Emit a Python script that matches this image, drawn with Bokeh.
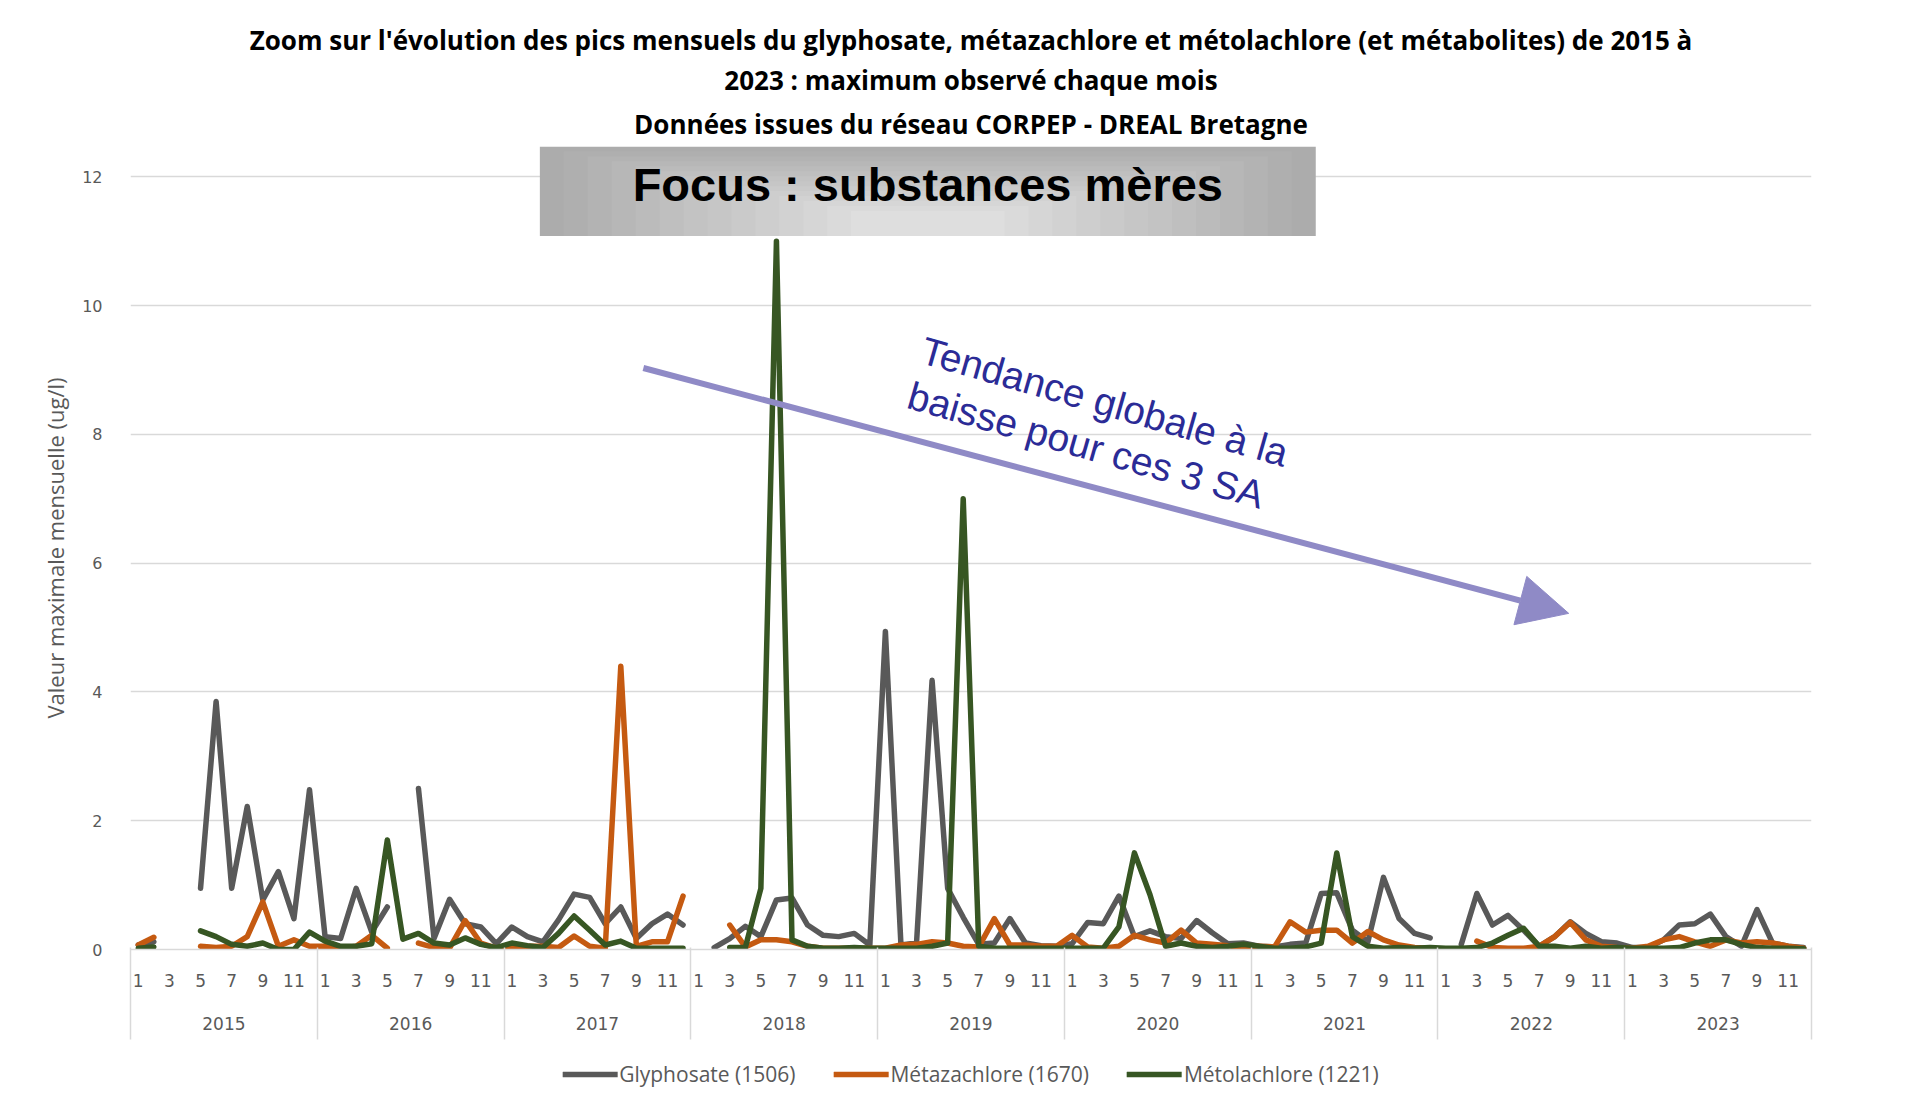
import math
from bokeh.plotting import figure
from bokeh.layouts import column
from bokeh.models import (Range1d, LinearAxis, FixedTicker, Title, Legend, LegendItem,
                          Arrow, NormalHead, Label, BoxAnnotation, ColumnDataSource)
from bokeh.embed import file_html
from bokeh.resources import INLINE

nan = float("nan")

years = [2015, 2016, 2017, 2018, 2019, 2020, 2021, 2022, 2023]
months = [1, 2, 3, 4, 5, 6, 7, 8, 9, 10, 11, 12]

series_names = ["Glyphosate (1506)", "Métazachlore (1670)", "Métolachlore (1221)"]
series_colors = ["#595959", "#c55a11", "#375623"]

glyphosate = [
    0.07, 0.12, nan, nan, 0.95, 3.85, 0.95, 2.22, 0.77, 1.21, 0.48, 2.48,
    0.20, 0.17, 0.95, 0.27, 0.66, nan, 2.50, 0.17, 0.78, 0.40, 0.35, 0.09,
    0.35, 0.20, 0.12, 0.46, 0.86, 0.81, 0.40, 0.66, 0.17, 0.40, 0.55, 0.38,
    nan, 0.03, 0.17, 0.36, 0.20, 0.77, 0.80, 0.38, 0.22, 0.20, 0.25, 0.07,
    4.94, 0.07, 0.10, 4.18, 0.95, 0.50, 0.08, 0.10, 0.48, 0.10, 0.06, 0.05,
    0.09, 0.42, 0.40, 0.83, 0.20, 0.29, 0.20, 0.17, 0.45, 0.26, 0.09, 0.10,
    0.05, 0.04, 0.08, 0.10, 0.87, 0.88, 0.30, 0.12, 1.12, 0.48, 0.25, 0.18,
    nan, 0.08, 0.87, 0.38, 0.53, 0.30, 0.05, 0.20, 0.43, 0.25, 0.12, 0.10,
    0.03, 0.03, 0.15, 0.38, 0.40, 0.55, 0.20, 0.05, 0.62, 0.10, 0.05, 0.03,
]

metazachlore = [
    0.07, 0.19, nan, nan, 0.05, 0.03, 0.05, 0.20, 0.74, 0.05, 0.15, 0.05,
    0.05, 0.02, 0.05, 0.22, 0.02, nan, 0.10, 0.03, 0.02, 0.45, 0.10, 0.02,
    0.05, 0.05, 0.05, 0.03, 0.21, 0.05, 0.02, 4.40, 0.05, 0.12, 0.12, 0.83,
    nan, nan, 0.38, 0.04, 0.15, 0.15, 0.12, 0.05, 0.02, 0.02, 0.02, 0.02,
    0.02, 0.07, 0.08, 0.12, 0.10, 0.05, 0.04, 0.48, 0.07, 0.07, 0.05, 0.05,
    0.22, 0.04, 0.02, 0.05, 0.22, 0.15, 0.10, 0.30, 0.10, 0.08, 0.06, 0.02,
    0.05, 0.04, 0.43, 0.27, 0.30, 0.30, 0.10, 0.28, 0.15, 0.07, 0.03, 0.02,
    nan, nan, 0.13, 0.03, 0.02, 0.02, 0.05, 0.20, 0.42, 0.15, 0.05, 0.03,
    0.02, 0.05, 0.15, 0.20, 0.12, 0.05, 0.15, 0.10, 0.12, 0.10, 0.05, 0.02,
]

metolachlore = [
    0.02, 0.04, nan, nan, 0.29, 0.20, 0.08, 0.05, 0.10, 0.00, 0.00, 0.27,
    0.13, 0.05, 0.05, 0.09, 1.70, 0.16, 0.25, 0.10, 0.07, 0.18, 0.08, 0.03,
    0.10, 0.06, 0.03, 0.25, 0.52, 0.30, 0.07, 0.13, 0.02, 0.02, 0.02, 0.02,
    nan, nan, 0.03, 0.03, 0.95, 11.0, 0.15, 0.05, 0.02, 0.02, 0.03, 0.02,
    0.02, 0.02, 0.02, 0.05, 0.10, 7.00, 0.05, 0.02, 0.02, 0.02, 0.02, 0.02,
    0.02, 0.02, 0.02, 0.35, 1.50, 0.85, 0.05, 0.10, 0.05, 0.03, 0.05, 0.08,
    0.05, 0.02, 0.02, 0.04, 0.10, 1.50, 0.20, 0.05, 0.02, 0.03, 0.02, 0.03,
    0.02, 0.02, 0.03, 0.10, 0.22, 0.33, 0.05, 0.05, 0.02, 0.05, 0.02, 0.03,
    0.02, 0.02, 0.02, 0.03, 0.10, 0.15, 0.15, 0.08, 0.03, 0.02, 0.02, 0.01,
]

y_ticks = [0, 2, 4, 6, 8, 10, 12]

title_lines = [
    "Zoom sur l'évolution des pics mensuels du glyphosate, métazachlore et métolachlore (et métabolites) de 2015 à",
    "2023 : maximum observé chaque mois",
    "Données issues du réseau CORPEP - DREAL Bretagne",
]

# x position of each month: 2 units per month, month centred on odd integers
ym = [(yy, m) for yy in years for m in months]
xpos = [2 * ((yy - years[0]) * 12 + (m - 1)) + 1 for yy, m in ym]
n_months = len(ym)

GRAY_TXT = "#595959"
GRID = "#d9d9d9"

p = figure(frame_width=1681, frame_height=803, output_backend="svg", toolbar_location=None,
           x_range=Range1d(0, 2 * n_months), y_range=Range1d(0, 12.47),
           x_axis_location=None,
           min_border_left=130, min_border_right=102, min_border_top=146, min_border_bottom=95)
p.outline_line_color = None
p.background_fill_color = "white"
p.border_fill_color = "white"

# y axis
p.yaxis.ticker = FixedTicker(ticks=y_ticks)
p.yaxis.axis_line_color = None
p.yaxis.major_tick_line_color = None
p.yaxis.minor_tick_line_color = None
p.yaxis.major_label_text_font = "DejaVu Sans"
p.yaxis.major_label_text_font_size = "16px"
p.yaxis.major_label_text_color = GRAY_TXT
p.yaxis.major_label_standoff = 22
p.yaxis.axis_label = "Valeur maximale mensuelle (ug/l)"
p.yaxis.axis_label_text_font = "Open Sans"
p.yaxis.axis_label_text_font_size = "22px"
p.yaxis.axis_label_text_font_style = "normal"
p.yaxis.axis_label_text_color = GRAY_TXT
p.yaxis.axis_label_standoff = 9
p.ygrid.ticker = FixedTicker(ticks=y_ticks)
p.ygrid.grid_line_color = GRID
p.ygrid.grid_line_width = 1.5
p.xgrid.visible = False

boundaries = [24 * j for j in range(len(years) + 1)]

# month axis
odd_pos = [xv for xv, (yy, m) in zip(xpos, ym) if m % 2 == 1]
month_over = {xv: str(m) for xv, (yy, m) in zip(xpos, ym) if m % 2 == 1}
month_axis = LinearAxis(ticker=FixedTicker(ticks=odd_pos), major_label_overrides=month_over)
month_axis.major_tick_out = 0
month_axis.major_tick_in = 0
month_axis.major_tick_line_color = None
month_axis.minor_tick_line_color = None
month_axis.axis_line_color = GRID
month_axis.axis_line_width = 1.5
month_axis.major_label_standoff = 24
month_axis.major_label_text_font = "DejaVu Sans"
month_axis.major_label_text_font_size = "17px"
month_axis.major_label_text_color = GRAY_TXT
p.add_layout(month_axis, "below")

# year axis
year_centers = [24 * j + 12 for j in range(len(years))]
year_axis = LinearAxis(ticker=FixedTicker(ticks=year_centers),
                       major_label_overrides={c: str(yy) for c, yy in zip(year_centers, years)})
year_axis.major_tick_out = 0
year_axis.major_tick_in = 0
year_axis.major_tick_line_color = None
year_axis.minor_tick_line_color = None
year_axis.axis_line_color = None
year_axis.major_label_standoff = 27
year_axis.major_label_text_font = "DejaVu Sans"
year_axis.major_label_text_font_size = "17px"
year_axis.major_label_text_color = GRAY_TXT
p.add_layout(year_axis, "below")

# separator axis: year boundaries drawn as inward minor ticks reaching up to the plot
sep_axis = LinearAxis(ticker=FixedTicker(ticks=[], minor_ticks=boundaries))
sep_axis.major_tick_out = 0
sep_axis.major_tick_in = 0
sep_axis.major_label_text_font_size = "0px"
sep_axis.major_label_standoff = 0
sep_axis.axis_line_color = None
sep_axis.minor_tick_out = 7
sep_axis.minor_tick_in = 85
sep_axis.minor_tick_line_color = GRID
sep_axis.minor_tick_line_width = 1.5
p.add_layout(sep_axis, "below")

# focus box with a soft gradient (annotation)
L, R, B, T = 52.6, 152.3, 11.08, 12.47
steps = 14
for i in range(steps):
    f = i / (steps - 1)
    c = int(172 + f * (222 - 172))
    col = "#%02x%02x%02x" % (c, c, c)
    dx = f * 40.0
    dy = f * 1.0
    p.add_layout(BoxAnnotation(left=L + dx, right=R - dx, bottom=B, top=T - dy,
                               fill_color=col, fill_alpha=1.0, line_color=None))
p.add_layout(Label(x=(L + R) / 2, y=11.88, text="Focus : substances mères",
                   text_align="center", text_baseline="middle",
                   text_font="Liberation Sans", text_font_style="bold",
                   text_font_size="47px", text_color="black"))

# series lines
sources = []
for name, vals, col in zip(series_names, [glyphosate, metazachlore, metolachlore], series_colors):
    src = ColumnDataSource(dict(x=xpos, y=vals))
    sources.append(src)
    p.line("x", "y", source=src, line_color=col, line_width=5.5,
           line_join="round", line_cap="round")

# trend arrow and text
p.add_layout(Arrow(x_start=65.9, y_start=9.03, x_end=184.8, y_end=5.22,
                   line_color="#8f8ac6", line_width=6,
                   end=NormalHead(size=50, fill_color="#8f8ac6", line_color="#8f8ac6")))
ang = -math.radians(16.0)
p.add_layout(Label(x=102.5, y=9.64, text="Tendance globale à la", angle=ang,
                   text_align="left", text_baseline="top", text_font="Liberation Sans",
                   text_font_size="39px", text_color="#2b2b96"))
p.add_layout(Label(x=100.8, y=8.94, text="baisse pour ces 3 SA", angle=ang,
                   text_align="left", text_baseline="top", text_font="Liberation Sans",
                   text_font_size="39px", text_color="#2b2b96"))

# titles (first added is closest to the plot)
standoffs = [2, 2, 10]
for line, so in reversed(list(zip(title_lines, standoffs))):
    p.add_layout(Title(text=line, align="center", text_font="Open Sans",
                       text_font_size="26px", text_font_style="bold",
                       text_color="black", standoff=so), "above")

# legend strip under the chart (same series, ranges chosen so only the legend shows)
lg = figure(frame_width=1681, frame_height=60, output_backend="svg", toolbar_location=None,
            x_range=Range1d(-20, -10), y_range=Range1d(-20, -10),
            x_axis_location=None, y_axis_location=None,
            min_border_left=130, min_border_right=102, min_border_top=0, min_border_bottom=0)
lg.outline_line_color = None
lg.xgrid.visible = False
lg.ygrid.visible = False
lg_renderers = []
for src, col in zip(sources, series_colors):
    lg_renderers.append(lg.line("x", "y", source=src, line_color=col, line_width=5.5,
                                line_join="round", line_cap="round"))
legend = Legend(items=[LegendItem(label=n, renderers=[r]) for n, r in zip(series_names, lg_renderers)],
                orientation="horizontal", location="center")
legend.border_line_color = None
legend.background_fill_alpha = 0
legend.glyph_width = 55
legend.label_standoff = 2
legend.spacing = 38
legend.label_text_font = "Open Sans"
legend.label_text_font_size = "21px"
legend.label_text_color = GRAY_TXT
legend.margin = 0
legend.padding = 4
lg.add_layout(legend)

open("out.html", "w").write(file_html(column(p, lg, spacing=0), INLINE))
